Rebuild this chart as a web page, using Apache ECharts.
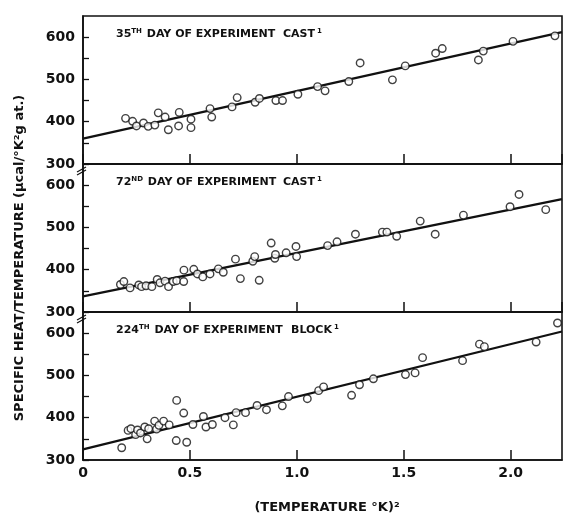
<!DOCTYPE html>
<html><head><meta charset="utf-8">
<script src="https://cdn.jsdelivr.net/npm/echarts@6/dist/echarts.min.js"></script>
<style>html,body{margin:0;padding:0;background:#fff}#c{width:566px;height:517px}</style>
</head><body><div id="c"></div>
<script>
// ---- data ----
var xTicks = [0, 0.5, 1.0, 1.5, 2.0];
var yTicks = [300, 400, 500, 600];
var panelTitles = ['35TH DAY OF EXPERIMENT', '72ND DAY OF EXPERIMENT', '224TH DAY OF EXPERIMENT'];
var panelTags = ['CAST', 'CAST', 'BLOCK'];

var day35 = [
  [0.199,408],[0.232,401],[0.250,390],[0.283,397],[0.305,389],[0.336,392],[0.352,421],
  [0.384,411],[0.399,381],[0.447,390],[0.450,422],[0.505,406],[0.505,386],[0.594,431],
  [0.602,411],[0.697,435],[0.721,457],[0.805,446],[0.825,455],[0.902,450],[0.933,450],
  [1.005,465],[1.097,483],[1.132,473],[1.243,495],[1.296,539],[1.447,499],[1.507,532],
  [1.649,562],[1.680,573],[1.849,546],[1.872,567],[2.011,590],[2.207,603]
];
var day72 = [
  [0.175,365],[0.191,372],[0.220,357],[0.261,364],[0.274,360],[0.295,362],[0.322,360],
  [0.347,377],[0.360,369],[0.384,373],[0.400,360],[0.422,372],[0.438,374],[0.471,372],
  [0.472,399],[0.518,401],[0.535,390],[0.560,383],[0.594,390],[0.633,402],[0.656,394],
  [0.713,425],[0.736,379],[0.794,420],[0.803,431],[0.824,375],[0.880,463],[0.897,427],
  [0.900,436],[0.950,440],[0.996,455],[0.999,431],[1.144,457],[1.188,466],[1.274,484],
  [1.400,489],[1.421,489],[1.467,479],[1.577,515],[1.647,484],[1.779,529],[1.997,549],
  [2.039,578],[2.164,542]
];
var day224 = [
  [0.181,329],[0.211,370],[0.224,374],[0.246,360],[0.255,371],[0.269,364],[0.289,378],
  [0.300,350],[0.307,374],[0.335,392],[0.344,373],[0.355,382],[0.377,392],[0.403,383],
  [0.438,441],[0.436,346],[0.471,411],[0.485,342],[0.514,384],[0.563,403],[0.575,378],
  [0.605,384],[0.664,400],[0.703,383],[0.716,412],[0.760,412],[0.814,429],[0.858,419],
  [0.932,428],[0.961,450],[1.049,445],[1.102,464],[1.125,473],[1.256,453],[1.293,478],
  [1.358,492],[1.508,502],[1.553,506],[1.588,542],[1.775,535],[1.854,574],[1.877,568],
  [2.119,579],[2.219,624]
];
var fit35 = [[0, 360], [2.24, 612]];
var fit72 = [[0, 337], [2.24, 567]];
var fit224 = [[0, 325], [2.24, 604]];

var panels = [day35, day72, day224];
var fits = [fit35, fit72, fit224];

// ---- layout ----
var FONT = 'DejaVu Sans';
var tops = [16, 164, 312];
var H = 148, LEFT = 83, RIGHT = 4;

var grids = [], xAxes = [], yAxes = [], series = [], graphics = [];
for (var i = 0; i < 3; i++) {
  grids.push({left: LEFT, right: RIGHT, top: tops[i], height: H, show: true,
    borderColor: '#111', borderWidth: 1.6, backgroundColor: 'transparent'});
  xAxes.push({type: 'value', gridIndex: i, min: 0, max: 2.24, interval: 0.5,
    axisLine: {show: true, lineStyle: {color: '#111', width: 1.6}},
    axisTick: {show: true, inside: true, length: 10, lineStyle: {color: '#111', width: 1.5}},
    axisLabel: {show: i === 2, showMaxLabel: false, color: '#111', fontFamily: FONT,
      fontSize: 14, fontWeight: 'bold', margin: 6,
      formatter: function (v) { return xTicks.indexOf(v) >= 0 ? (v === 0 ? '0' : v.toFixed(1)) : ''; }},
    splitLine: {show: false}});
  yAxes.push({type: 'value', gridIndex: i, min: 300, max: 650, interval: 50,
    axisLine: {show: true, lineStyle: {color: '#111', width: 1.6}},
    axisTick: {show: true, inside: true, length: 6, lineStyle: {color: '#111', width: 1.3}},
    axisLabel: {showMaxLabel: false, color: '#111', fontFamily: FONT, fontSize: 14,
      fontWeight: 'bold', margin: 8,
      formatter: function (v) { return yTicks.indexOf(v) >= 0 ? String(v) : ''; }},
    splitLine: {show: false}});
  series.push({type: 'line', xAxisIndex: i, yAxisIndex: i, data: fits[i], symbol: 'none',
    lineStyle: {color: '#111', width: 2.2}, z: 2, silent: true});
  series.push({type: 'scatter', xAxisIndex: i, yAxisIndex: i, data: panels[i], symbol: 'circle',
    symbolSize: 7.5, itemStyle: {color: '#fff', borderColor: '#111', borderWidth: 1.4}, z: 3});

  var m = panelTitles[i].match(/^(\d+)(TH|ND|RD|ST)(.*)$/);
  graphics.push({type: 'text', left: 116, top: tops[i] + 12, z: 10,
    style: {rich: {n: {fontFamily: FONT, fontSize: 11, fontWeight: 'bold', fill: '#111'},
                   s: {fontFamily: FONT, fontSize: 7, fontWeight: 'bold', fill: '#111', verticalAlign: 'top', padding: [0, 1, 6, 0]}},
            text: '{n|' + m[1] + '}{s|' + m[2] + '}{n|' + m[3] + '}'}});
  graphics.push({type: 'text', left: i === 2 ? 291 : 283, top: tops[i] + 12, z: 10,
    style: {rich: {n: {fontFamily: FONT, fontSize: 11, fontWeight: 'bold', fill: '#111'},
                   s: {fontFamily: FONT, fontSize: 7, fontWeight: 'bold', fill: '#111', padding: [0, 0, 6, 2]}},
            text: '{n|' + panelTags[i] + '}{s|1}'}});
}
// axis break marks
[171, 319].forEach(function (y) {
  graphics.push({type: 'line', shape: {x1: LEFT - 6, y1: y + 1, x2: LEFT + 3, y2: y - 4}, style: {stroke: '#111', lineWidth: 1.2}, z: 10});
  graphics.push({type: 'line', shape: {x1: LEFT - 6, y1: y + 4, x2: LEFT + 3, y2: y - 1}, style: {stroke: '#111', lineWidth: 1.2}, z: 10});
});
// axis titles
graphics.push({type: 'text', x: 20, y: 258, rotation: Math.PI / 2, z: 10,
  style: {text: 'SPECIFIC HEAT/TEMPERATURE (\u03bccal/\u00b0K\u00b2g at.)', fontFamily: FONT, fontSize: 13,
    fontWeight: 'bold', fill: '#111', align: 'center', verticalAlign: 'middle'}});
graphics.push({type: 'text', x: 327, y: 508, z: 10,
  style: {text: '(TEMPERATURE \u00b0K)\u00b2', fontFamily: FONT, fontSize: 13, fontWeight: 'bold',
    fill: '#111', align: 'center', verticalAlign: 'middle'}});

var chart = echarts.init(document.getElementById('c'));
chart.setOption({
  animation: false,
  backgroundColor: '#fff',
  grid: grids, xAxis: xAxes, yAxis: yAxes, series: series, graphic: graphics
});
</script></body></html>
